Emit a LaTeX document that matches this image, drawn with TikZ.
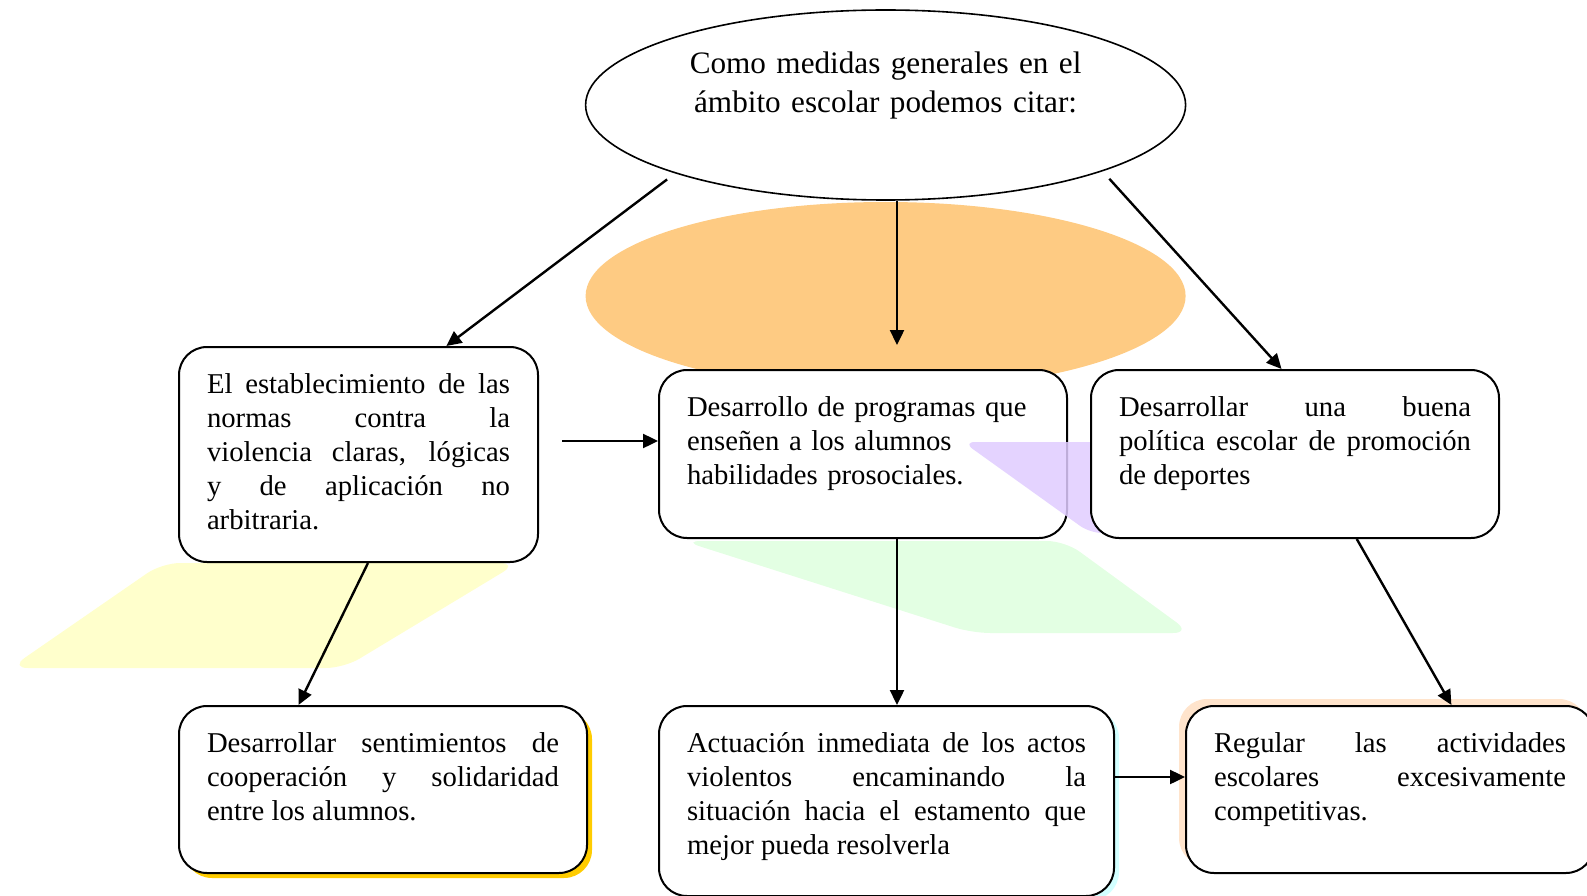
\documentclass[tikz,border=0pt]{standalone}
\usepackage{fontspec}
\setmainfont{Liberation Serif}
\usetikzlibrary{shapes.geometric,arrows.meta,shadows}
\definecolor{orangeblob}{RGB}{254,203,131}
\definecolor{yellowblob}{RGB}{255,255,204}
\definecolor{greenblob}{RGB}{227,255,227}
\definecolor{purpleblob}{RGB}{224,204,255}
\definecolor{goldshadow}{RGB}{255,204,0}
\definecolor{cyanshadow}{RGB}{210,255,255}
\definecolor{peachshadow}{RGB}{255,228,204}
\hyphenpenalty=10000
\exhyphenpenalty=10000
\begin{document}
\begin{tikzpicture}
[x=1pt, y=-1pt,
 medida/.style={draw, line width=2pt, rounded corners=28pt, fill=white, anchor=north west, align=justify, inner xsep=28pt, inner ysep=22pt, text height=24pt, font=\fontsize{28.7}{34.2}\selectfont},
 flecha/.style={line width=2.4pt, -{Triangle[length=15pt,width=14pt]}}]
\useasboundingbox (0,0) rectangle (1587,896);
\fill[orangeblob] (885.6,296) ellipse [x radius=300, y radius=94];
\fill[yellowblob, rounded corners=18pt] (162,563) -- (518,563) -- (344,668) -- (10,668) -- cycle;
\fill[greenblob, rounded corners=18pt] (683,541) -- (1065,541) -- (1191,633) -- (972,633) -- cycle;
\node[draw, ellipse, line width=1.6pt, fill=white, minimum width=600pt, minimum height=190pt, inner sep=0pt, text width=420pt, align=center, text height=26pt, text depth=88pt, font=\fontsize{31.2}{38.5}\selectfont] (medidas) at (885.6,105) {Como medidas generales en el\\ ámbito escolar podemos citar:};
\node[medida, text width=303pt, text depth=147pt] (normas) at (178,346) {El establecimiento de las\linebreak normas contra la\linebreak violencia claras, lógicas\linebreak y de aplicación no\linebreak arbitraria.};
\node[medida, text width=352pt, text depth=100pt, align=left] (programas) at (658,369) {Desarrollo de programas que\\ enseñen a los alumnos\\ habilidades prosociales.};
\node[medida, text width=352pt, text depth=99pt, drop shadow={shadow xshift=5pt, shadow yshift=-5pt, fill=goldshadow, opacity=1}] (cooperacion) at (178,705) {Desarrollar sentimientos de\linebreak cooperación y solidaridad\linebreak entre los alumnos.};
\node[medida, text width=399pt, text depth=122pt, drop shadow={shadow xshift=5pt, shadow yshift=-4pt, fill=cyanshadow, opacity=1}] (actuacion) at (658,705) {Actuación inmediata de los actos\linebreak violentos encaminando la\linebreak situación hacia el estamento que\linebreak mejor pueda resolverla};
\node[medida, text width=352pt, text depth=99pt, drop shadow={shadow xshift=-7pt, shadow yshift=7pt, fill=peachshadow, opacity=1}] (regular) at (1185,705) {Regular las actividades\linebreak escolares excesivamente\linebreak competitivas.};
\fill[purpleblob, opacity=0.85, rounded corners=12pt] (963,442) -- (1200,442) -- (1200,533) -- (1090,533) -- cycle;
\node[medida, text width=352pt, text depth=100pt] (deportes) at (1090,369) {Desarrollar una buena\linebreak política escolar de promoción\linebreak de deportes};
\coordinate (colB) at (897,345);
\coordinate (inicio) at (562,441);
\coordinate (filaE) at (0,777);
\draw[flecha, shorten <=10pt] (medidas.198) -- (normas.51.5);
\draw[flecha] (medidas.south -| colB) -- (colB);
\draw[flecha, shorten <=10pt] (medidas.-17.8) -- (deportes.99.5);
\draw[flecha] (inicio) -- (inicio -| programas.west);
\draw[flecha] (normas.-85) -- (cooperacion.135);
\draw[flecha] (programas.south -| colB) -- (actuacion.north -| colB);
\draw[flecha] (deportes.-54.5) -- (regular.54);
\draw[flecha] (actuacion.east |- filaE) -- (regular.west |- filaE);
\end{tikzpicture}
\end{document}
